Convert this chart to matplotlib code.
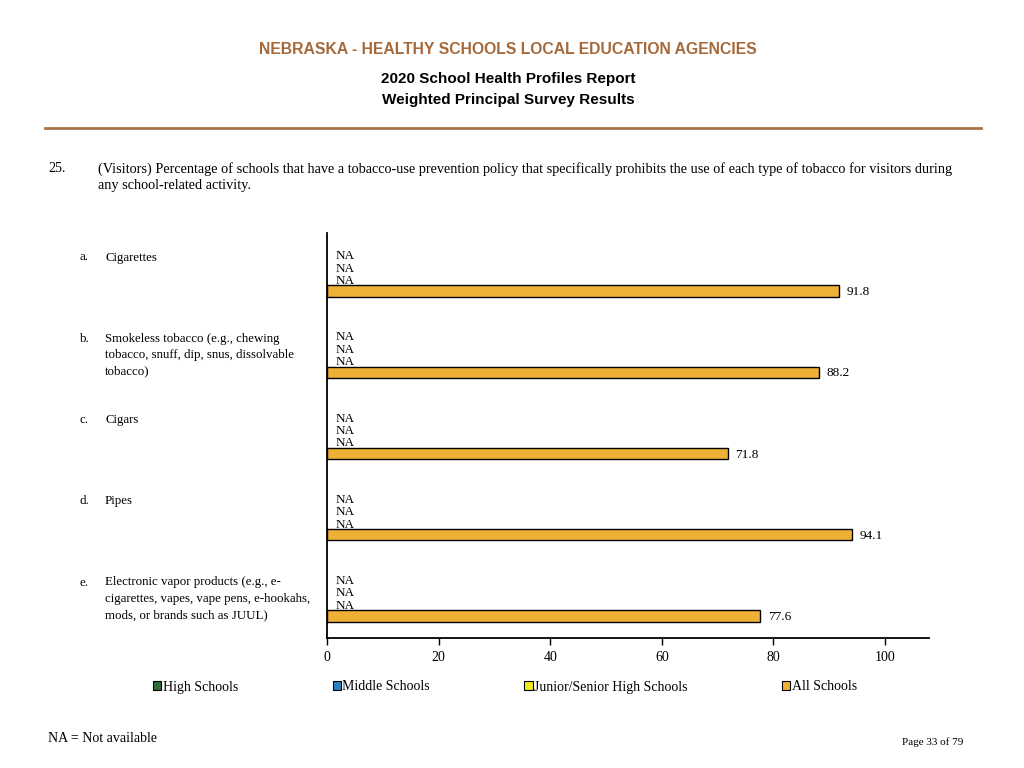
import matplotlib
matplotlib.use("Agg")
import matplotlib.pyplot as plt
from matplotlib.patches import Patch

# ---- data ----
letters = ["a.", "b.", "c.", "d.", "e."]
categories = [
    "Cigarettes",
    "Smokeless tobacco (e.g., chewing\ntobacco, snuff, dip, snus, dissolvable\ntobacco)",
    "Cigars",
    "Pipes",
    "Electronic vapor products (e.g., e-\ncigarettes, vapes, vape pens, e-hookahs,\nmods, or brands such as JUUL)",
]
series_names = ["High Schools", "Middle Schools", "Junior/Senior High Schools", "All Schools"]
high_schools = [None, None, None, None, None]
middle_schools = [None, None, None, None, None]
junior_senior = [None, None, None, None, None]
all_schools = [91.8, 88.2, 71.8, 94.1, 77.6]
xticks = [0, 20, 40, 60, 80, 100]

series_values = [high_schools, middle_schools, junior_senior, all_schools]
colors = ["#2e6e3e", "#2a80c0", "#f2e826", "#eeb135"]

W, H = 1024, 768
fig = plt.figure(figsize=(W / 100, H / 100), dpi=100)
serif = ["Liberation Serif", "DejaVu Serif"]
sans = ["Liberation Sans", "DejaVu Sans"]

def fx(px):
    return px / W

def fy(py):
    return 1 - py / H

# header
fig.text(fx(508), fy(50), "NEBRASKA - HEALTHY SCHOOLS LOCAL EDUCATION AGENCIES",
         family=sans, weight="bold", fontsize=11.3, color="#a5693a", ha="center", va="center")
fig.text(fx(508), fy(79), "2020 School Health Profiles Report",
         family=sans, weight="bold", fontsize=11, color="black", ha="center", va="center")
fig.text(fx(508), fy(100), "Weighted Principal Survey Results",
         family=sans, weight="bold", fontsize=11, color="black", ha="center", va="center")
fig.add_artist(plt.Line2D([fx(45), fx(981)], [fy(128), fy(128)], color="#a87447", lw=2,
                          transform=fig.transFigure))

# question
fig.text(fx(48), fy(169), "25.", family=serif, fontsize=10.2, ha="left", va="center")
fig.text(fx(98), fy(169),
         "(Visitors) Percentage of schools that have a tobacco-use prevention policy that specifically prohibits the use of each type of tobacco for visitors during",
         family=serif, fontsize=10.25, ha="left", va="center")
fig.text(fx(98), fy(186), "any school-related activity.", family=serif, fontsize=10.25, ha="left", va="center")

# axes
left, right, top, bottom = 327, 929, 233, 638
ax = fig.add_axes([fx(left), fy(bottom), (right - left) / W, (bottom - top) / H])
slot_px = 12.5
ymax = (bottom - top) / slot_px
ax.set_xlim(0, 100 * (right - left) / (885 - 327))
ax.set_ylim(ymax, 0)

group_gap = 6.5
first = 1.64
for i in range(len(categories)):
    for j, vals in enumerate(series_values):
        y = first + i * group_gap + j
        v = vals[i]
        if v is None:
            ax.text(1.6, y + 0.2, "NA", family=serif, fontsize=9.5, ha="left", va="center")
        else:
            ax.barh(y, v, height=0.9, color=colors[j], edgecolor="black", linewidth=1.0)
            ax.text(v + 1.4, y + 0.1, f"{v:.1f}", family=serif, fontsize=9.5, ha="left", va="center")
    # category labels
    ylab = top + (first + i * group_gap) * slot_px
    fig.text(fx(80), fy(ylab - 2), letters[i], family=serif, fontsize=9.3, ha="left", va="top")
    fig.text(fx(105), fy(ylab - 2), categories[i], family=serif, fontsize=9.3, ha="left", va="top",
             linespacing=1.5)

for s in ["top", "right"]:
    ax.spines[s].set_visible(False)
ax.spines["left"].set_linewidth(1.3)
ax.spines["bottom"].set_linewidth(1.3)
ax.set_yticks([])
ax.set_xticks(xticks)
ax.set_xticklabels([str(t) for t in xticks], family=serif, fontsize=10)
ax.tick_params(axis="x", length=5, width=1, pad=4.5)

# legend
handles = [Patch(facecolor=c, edgecolor="black", linewidth=0.8) for c in colors]
leg = fig.legend(handles, series_names, loc="center", bbox_to_anchor=(fx(505), fy(687)),
                 ncol=4, frameon=False, handlelength=0.6, handleheight=0.6, handletextpad=0.1,
                 columnspacing=6.8, prop={"family": serif, "size": 10})

fig.text(fx(48), fy(738), "NA = Not available", family=serif, fontsize=10, ha="left", va="center")
fig.text(fx(963), fy(742), "Page 33 of 79", family=serif, fontsize=8, ha="right", va="center")

fig.savefig("out.png", dpi=100)
